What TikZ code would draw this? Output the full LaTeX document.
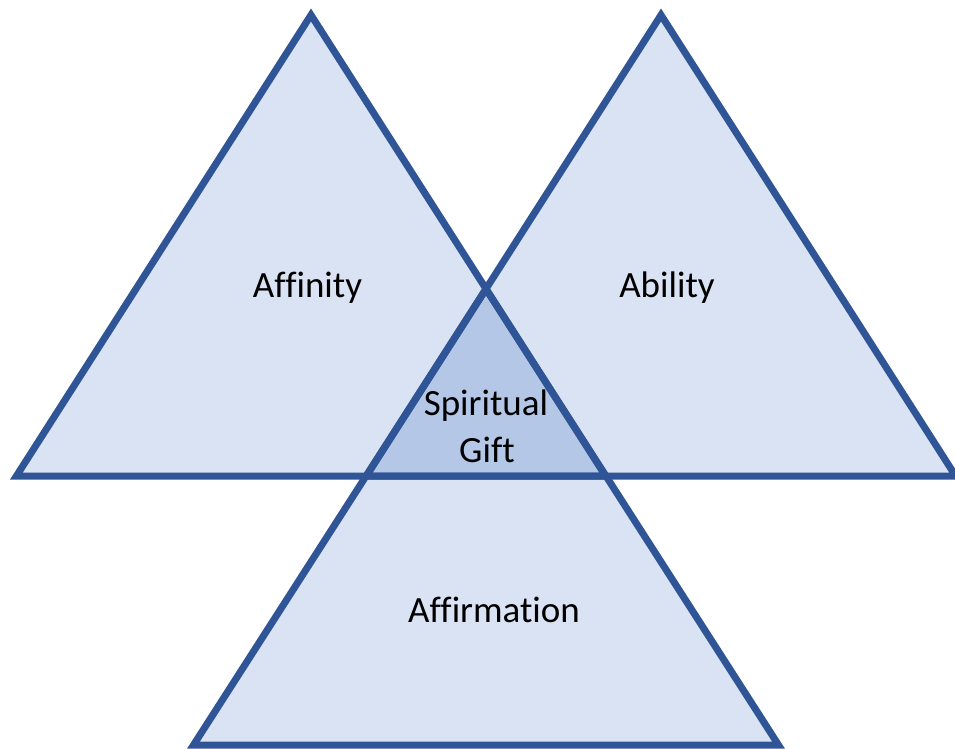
\documentclass[tikz,border=0pt]{standalone}
\usepackage{fontspec}
\setmainfont{Carlito}[Ligatures={NoCommon}]
\definecolor{edge}{HTML}{2F5597}
\definecolor{lightfill}{HTML}{DAE3F3}
\definecolor{midfill}{HTML}{B4C7E7}
\begin{document}
\begin{tikzpicture}[x=1pt,y=-1pt,
  tri/.style={draw=edge,line width=7pt,line join=miter},
  lbl/.style={font=\fontsize{37}{47}\selectfont,text=black,inner sep=0pt,anchor=base}]
\useasboundingbox (0,0) rectangle (955,749);
\clip (0,0) rectangle (955,749);
% vertices
\coordinate (LA) at (311,15);
\coordinate (LL) at (16.4,476);
\coordinate (LR) at (605.6,476);
\coordinate (RA) at (661,15);
\coordinate (RL) at (366.4,476);
\coordinate (RR) at (955.6,476);
\coordinate (BA) at (486,289);
\coordinate (BL) at (193.5,745);
\coordinate (BR) at (778.5,745);
\coordinate (CA) at (486,289);
% fills
\fill[lightfill] (LA) -- (LL) -- (LR) -- cycle;
\fill[lightfill] (RA) -- (RL) -- (RR) -- cycle;
\fill[lightfill] (BA) -- (BL) -- (BR) -- cycle;
\fill[midfill] (CA) -- (RL) -- (LR) -- cycle;
% outlines
\draw[tri] (LA) -- (LL) -- (LR) -- cycle;
\draw[tri] (RA) -- (RL) -- (RR) -- cycle;
\draw[tri] (BA) -- (BL) -- (BR) -- cycle;
% labels
\node[lbl] (affinity) at (307.5,297) {Affinity};
\node[lbl] (ability) at (667,297) {Ability};
\node[lbl] (spiritual) at (486,415) {Spiritual};
\node[lbl] (gift) at (487,462) {Gift};
\node[lbl] (affirmation) at (494,622) {Affirmation};
\end{tikzpicture}
\end{document}
